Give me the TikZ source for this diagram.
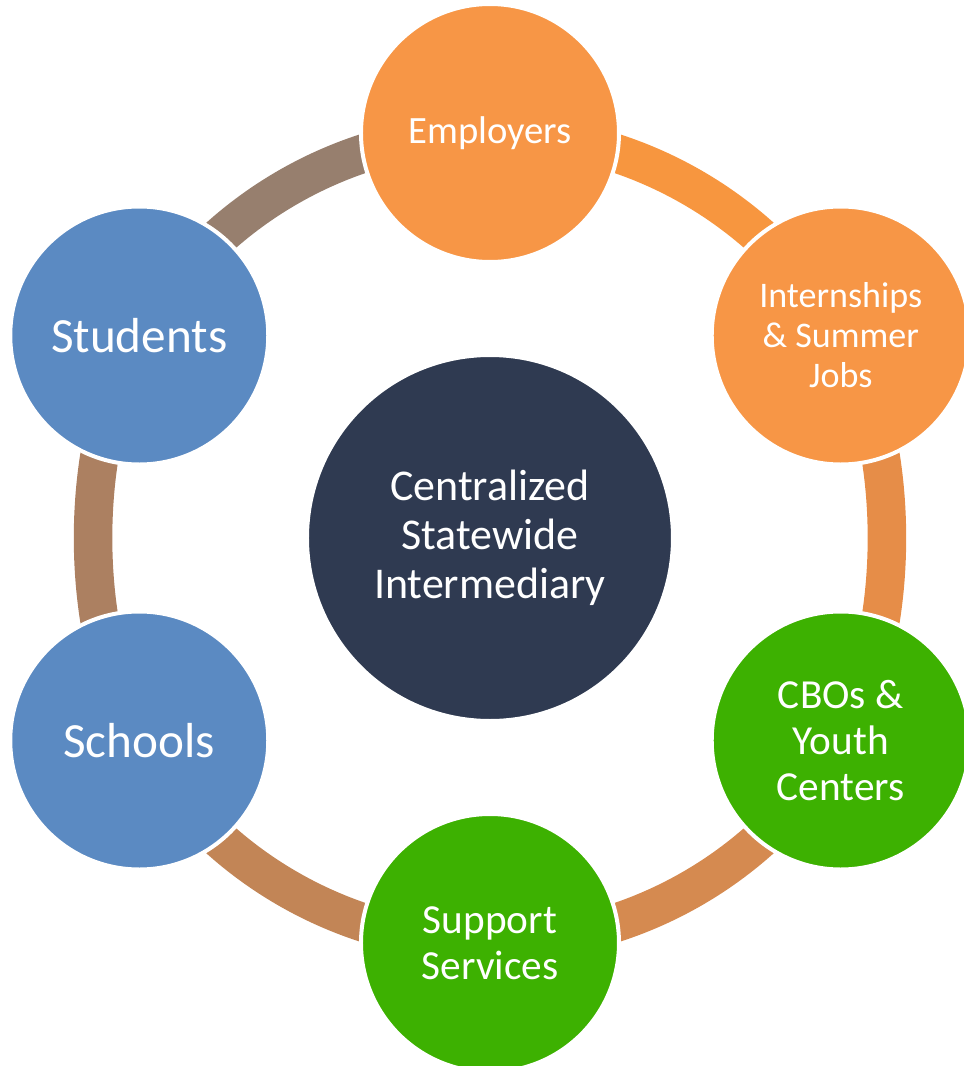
\documentclass[tikz,border=0pt]{standalone}
\usepackage{fontspec}
\setmainfont{Carlito}
\usetikzlibrary{positioning,backgrounds}
\usepackage{xcolor}

\definecolor{hubnavy}{HTML}{2F3A51}
\definecolor{partorange}{HTML}{F79646}
\definecolor{partgreen}{HTML}{3DB101}
\definecolor{partblue}{HTML}{5B8AC2}
\definecolor{linkA}{HTML}{F7963F}
\definecolor{linkB}{HTML}{E68D48}
\definecolor{linkC}{HTML}{D58A50}
\definecolor{linkD}{HTML}{C28556}
\definecolor{linkE}{HTML}{AC8061}
\definecolor{linkF}{HTML}{977F6E}

\begin{document}
\begin{tikzpicture}
    \tikzstyle{hub} = [circle, fill=hubnavy, draw=white, line width=0.08cm, minimum size=7.32cm, inner sep=0pt, text=white, align=center, font=\fontsize{25}{28}\selectfont]
    \tikzstyle{partner} = [circle, draw=white, line width=0.08cm, minimum size=5.16cm, inner sep=0pt, text=white, align=center]
    \tikzstyle{link} = [line width=0.77cm, bend left=30, looseness=0.91]

    \useasboundingbox (-9.8,-10.56) rectangle (9.48,10.76);

    % Kreise
    \node[hub] (hub) at (0,0) {Centralized\\Statewide\\Intermediary};
    \node[partner, fill=partorange, font=\fontsize{22}{25}\selectfont] (employers) at (90:8.1) {Employers};
    \node[partner, fill=partorange, font=\fontsize{20.5}{22.8}\selectfont] (internships) at (30:8.1) {Internships\\\& Summer\\Jobs};
    \node[partner, fill=partgreen, font=\fontsize{23.5}{26.2}\selectfont] (cbos) at (-30:8.1) {CBOs \&\\Youth\\Centers};
    \node[partner, fill=partgreen, font=\fontsize{23.5}{26.2}\selectfont] (support) at (-90:8.1) {Support\\Services};
    \node[partner, fill=partblue, font=\fontsize{28}{31}\selectfont] (schools) at (-150:8.1) {Schools};
    \node[partner, fill=partblue, font=\fontsize{28}{31}\selectfont] (students) at (150:8.1) {Students};

    % Ring
    \begin{scope}[on background layer]
        \draw[link, linkA] (employers.center) to (internships.center);
        \draw[link, linkB, looseness=0.78] (internships.center) to (cbos.center);
        \draw[link, linkC] (cbos.center) to (support.center);
        \draw[link, linkD] (support.center) to (schools.center);
        \draw[link, linkE, looseness=0.78] (schools.center) to (students.center);
        \draw[link, linkF] (students.center) to (employers.center);
    \end{scope}
\end{tikzpicture}
\end{document}
